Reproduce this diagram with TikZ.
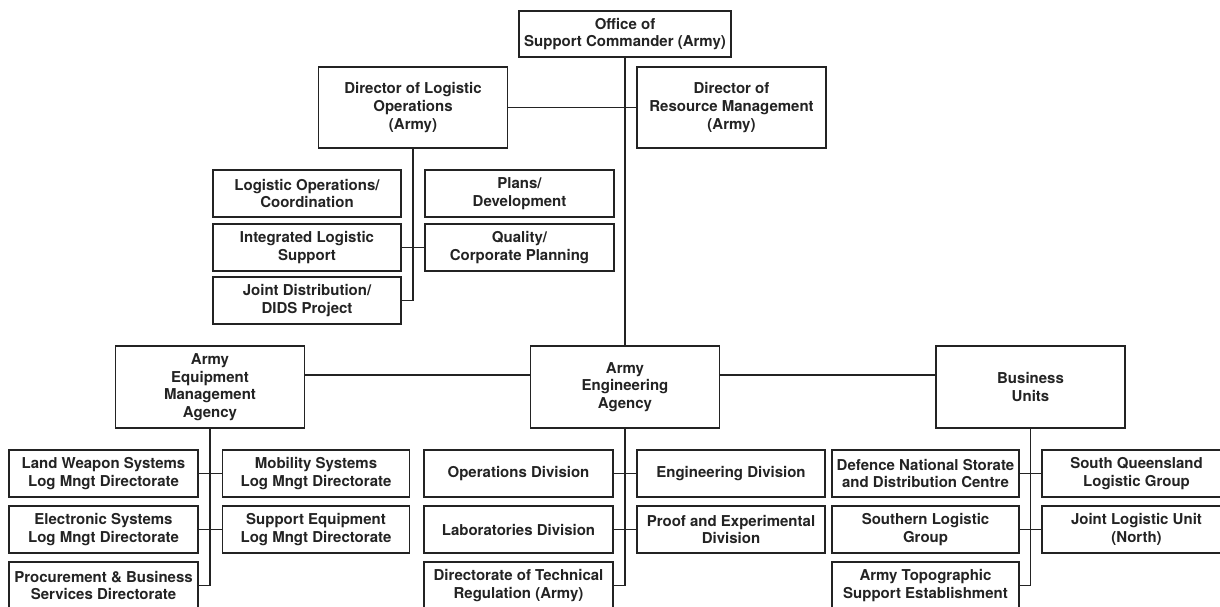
\documentclass[tikz,border=0pt]{standalone}
\usepackage{fontspec}
\setmainfont{TeX Gyre Heros}
\definecolor{ink}{RGB}{35,35,35}

\begin{document}
\begin{tikzpicture}[x=1pt,y=-1pt,line width=1.4pt,
  unit/.style={draw=ink,text=ink,align=center,inner sep=0pt,
    minimum width=189pt,minimum height=47pt,
    font=\fontsize{15}{17.6}\selectfont\bfseries},
  head/.style={unit,minimum height=81pt}]

\useasboundingbox (0,0) rectangle (1220,606);

\node[unit,minimum width=212pt,minimum height=46pt] (office) at (625,34) {Office of\\Support Commander (Army)};
\node[head] (dlo) at (413,107.5) {Director of Logistic\\Operations\\(Army)};
\node[head] (drm) at (731.5,107.5) {Director of\\Resource Management\\(Army)};

\node[unit,minimum width=188pt] (loc) at (307,193.5) {Logistic Operations/\\Coordination};
\node[unit] (plans) at (519.5,193.5) {Plans/\\Development};
\node[unit,minimum width=188pt] (ils) at (307,247.5) {Integrated Logistic\\Support};
\node[unit] (qual) at (519.5,247.5) {Quality/\\Corporate Planning};
\node[unit,minimum width=188pt] (jd) at (307,300.5) {Joint Distribution/\\DIDS Project};

\node[head,minimum height=82pt] (aema) at (210,387) {Army\\Equipment\\Management\\Agency};
\node[head,minimum height=82pt] (aea) at (625,387) {Army\\Engineering\\Agency};
\node[head,minimum height=82pt] (bu) at (1030.5,387) {Business\\Units};
\coordinate (hub) at (625,375);

\node[unit] (lws) at (103.5,473.5) {Land Weapon Systems\\Log Mngt Directorate};
\node[unit,minimum width=187pt] (mob) at (316,473.5) {Mobility Systems\\Log Mngt Directorate};
\node[unit] (es) at (103.5,529.5) {Electronic Systems\\Log Mngt Directorate};
\node[unit,minimum width=187pt] (se) at (316,529.5) {Support Equipment\\Log Mngt Directorate};
\node[unit] (pbs) at (103.5,585.5) {Procurement \& Business\\Services Directorate};

\node[unit] (ops) at (518.5,473.5) {Operations Division};
\node[unit,minimum width=188pt] (eng) at (731,473.5) {Engineering Division};
\node[unit] (lab) at (518.5,529.5) {Laboratories Division};
\node[unit,minimum width=188pt] (proof) at (731,529.5) {Proof and Experimental\\Division};
\node[unit] (dtr) at (518.5,585.5) {Directorate of Technical\\Regulation (Army)};

\node[unit,minimum width=187pt] (dns) at (925.5,473.5) {Defence National Storate\\and Distribution Centre};
\node[unit] (sq) at (1136.5,473.5) {South Queensland\\Logistic Group};
\node[unit,minimum width=187pt] (slg) at (925.5,529.5) {Southern Logistic\\Group};
\node[unit] (jlu) at (1136.5,529.5) {Joint Logistic Unit\\(North)};
\node[unit,minimum width=187pt] (ats) at (925.5,585.5) {Army Topographic\\Support Establishment};


\path [draw=ink,-]
    (office.south) -- (aea.north)
    (dlo.east) -- (drm.west)
    (dlo.south) |- (jd.east)
    (ils.east) -- (qual.west)
    (aema.east |- hub) -- (aea.west |- hub)
    (aea.east |- hub) -- (bu.west |- hub)
;

\path [draw=ink,-]
    (aema.south) |- (pbs.east)
    (lws.east) -- (mob.west)
    (es.east) -- (se.west)
    (aea.south) |- (dtr.east)
    (ops.east) -- (eng.west)
    (lab.east) -- (proof.west)
    (bu.south) |- (ats.east)
    (dns.east) -- (sq.west)
    (slg.east) -- (jlu.west)
;


\end{tikzpicture}
\end{document}
